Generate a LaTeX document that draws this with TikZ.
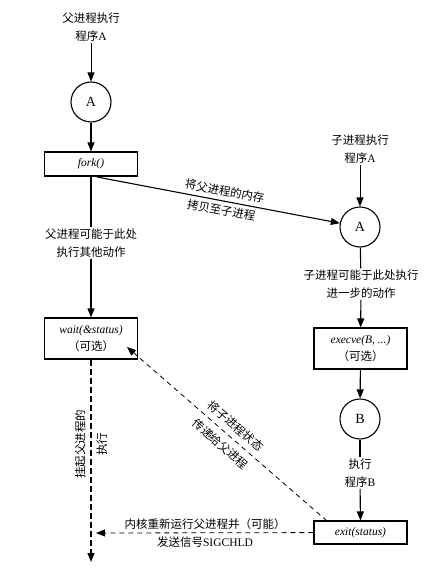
\documentclass[tikz,border=0pt]{standalone}
\usepackage{fontspec}
\setmainfont{Liberation Serif}
\newfontfamily\cjk{Noto Sans CJK SC}
\usetikzlibrary{arrows.meta}
\begin{document}
\begin{tikzpicture}[x=1pt,y=-1pt,
  font=\fontsize{11.5}{17.5}\selectfont,
  box/.style={draw, line width=1.1pt, minimum width=93pt, inner sep=0pt, align=center},
  circ/.style={draw, circle, line width=1.1pt, minimum size=40pt, inner sep=0pt, font=\fontsize{14}{16}\selectfont},
  lbl/.style={align=center, inner sep=1.5pt},
  arr/.style={-{Triangle[length=9pt,width=7pt]}, line width=1.1pt},
  tarr/.style={-{Triangle[length=9pt,width=7pt]}, line width=0.7pt},
  solid line/.style={line width=1.1pt},
  darr/.style={-{Triangle[length=9pt,width=7pt]}, line width=0.8pt, dash pattern=on 5pt off 4pt},
  dline/.style={line width=1.3pt, dash pattern=on 6pt off 3pt, -{Triangle[length=9pt,width=7pt]}}
]
\useasboundingbox (0,0) rectangle (436,569);

% left column
\node[lbl] (ptext) at (91,27) {{\cjk 父进程执行}\\{\cjk 程序}A};
\node[circ] (cA1) at (91,102) {A};
\node[box, minimum height=24pt] (fork) at (91,164) {\textit{fork()}};
\node[lbl] (plabel) at (91,243) {{\cjk 父进程可能于此处}\\{\cjk 执行其他动作}};
\node[box, minimum height=41pt] (wait) at (91,338.5) {\textit{wait(\&status)}\\{\cjk （可选）}};
\coordinate (pend) at (91,562);
\node[lbl, rotate=90] (susp) at (91,444) {{\cjk 挂起父进程的}\\[4pt]{\cjk 执行}};

% right column
\node[lbl] (ctext) at (360,149) {{\cjk 子进程执行}\\{\cjk 程序}A};
\node[circ] (cA2) at (360,227) {A};
\node[lbl] (clabel) at (361,284) {{\cjk 子进程可能于此处执行}\\{\cjk 进一步的动作}};
\node[box, minimum height=41pt] (execve) at (360.5,348.5) {\textit{execve(B, ...)}\\{\cjk （可选）}};
\node[circ] (cB) at (360,419) {B};
\node[lbl] (blabel) at (360,473) {{\cjk 执行}\\{\cjk 程序}B};
\node[box, minimum height=23pt] (exit) at (360.5,532.5) {\textit{exit(status)}};

% connectors left
\draw[tarr] (ptext) -- (cA1);
\draw[arr] (cA1) -- (fork);
\draw[solid line] (fork) -- (plabel);
\draw[arr] (plabel) -- (wait);
\draw[dline] (wait) -- (pend);

% connectors right
\draw[tarr] (ctext) -- (cA2);
\draw[solid line] (cA2) -- (clabel);
\draw[arr] (clabel) -- (execve);
\draw[arr] (execve) -- (cB);
\draw[solid line] (cB) -- (blabel);
\draw[arr] (blabel) -- (exit);

% fork -> child
\coordinate (fstart) at (97,177);
\draw[arr] (fstart) -- (cA2);
\node[lbl, rotate=-10.4] (flabel) at (223,200.5) {{\cjk 将父进程的内存}\\[2pt]{\cjk 拷贝至子进程}};

% exit -> wait (status)
\coordinate (dstart) at (327,521);
\coordinate (dend) at (127,347);
\draw[darr] (dstart) -- (dend);
\node[lbl, rotate=-41] (dlabel) at (228,435) {{\cjk 将子进程状态}\\[6pt]{\cjk 传递给父进程}};

% exit -> parent (SIGCHLD)
\coordinate (hend) at (96,533);
\draw[darr] (exit) -- (hend);
\node[lbl] (hlabel) at (205,533) {{\cjk 内核重新运行父进程并（可能）}\\[1pt]{\cjk 发送信号}SIGCHLD};
\end{tikzpicture}
\end{document}
